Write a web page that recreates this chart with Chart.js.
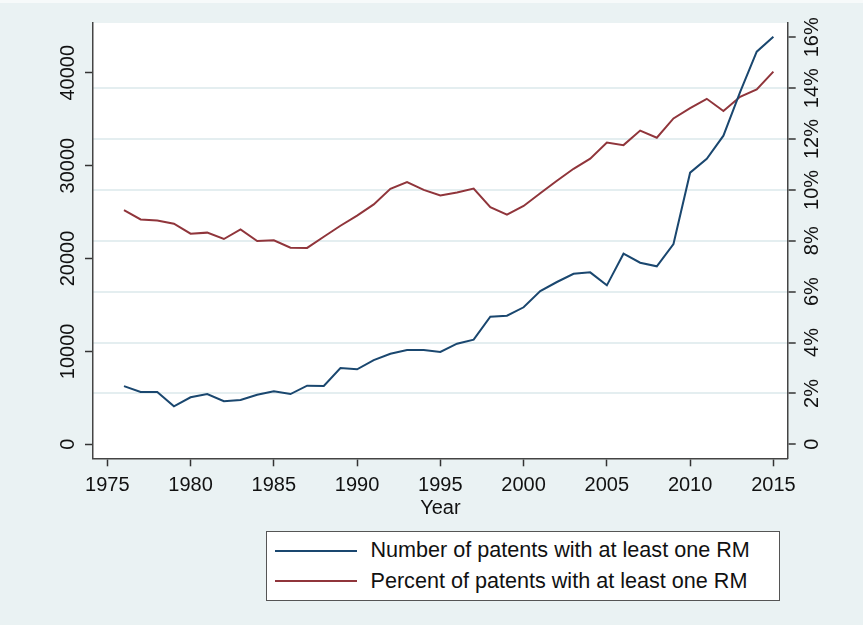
<!DOCTYPE html>
<html>
<head>
<meta charset="utf-8">
<script src="https://cdn.jsdelivr.net/npm/chart.js@4.4.1/dist/chart.umd.min.js"></script>
<style>
  body { margin: 0; background: #fff; }
  #wrap { position: relative; width: 863px; height: 625px; }
  #legend {
    position: absolute; left: 266px; top: 531px; width: 514px; height: 70px;
    box-sizing: border-box; border: 1.5px solid #555; background: #fff;
    font-family: "Liberation Sans", Arial, sans-serif; font-size: 21.6px; color: #111;
  }
  .swatch { position: absolute; left: 7.5px; width: 82px; height: 2px; }
  .txt { position: absolute; left: 103.5px; white-space: nowrap; line-height: 24px; }
</style>
</head>
<body>
<div id="wrap">
  <canvas id="rmChart" width="863" height="625"></canvas>
  <div id="legend">
    <div class="swatch" style="top:17.8px; background:#1a476f"></div>
    <div class="txt" style="top:5.5px">Number of patents with at least one RM</div>
    <div class="swatch" style="top:47.5px; background:#90353b"></div>
    <div class="txt" style="top:36.5px">Percent of patents with at least one RM</div>
  </div>
</div>
<script>
var years = [1976, 1977, 1978, 1979, 1980, 1981, 1982, 1983, 1984, 1985,
             1986, 1987, 1988, 1989, 1990, 1991, 1992, 1993, 1994, 1995,
             1996, 1997, 1998, 1999, 2000, 2001, 2002, 2003, 2004, 2005,
             2006, 2007, 2008, 2009, 2010, 2011, 2012, 2013, 2014, 2015];
// number of patents with at least one RM (left axis)
var patentCounts = [6260, 5630, 5630, 4090, 5060, 5410, 4630, 4770, 5340, 5700,
                    5410, 6310, 6280, 8210, 8070, 9070, 9750, 10150, 10150, 9940,
                    10830, 11260, 13740, 13840, 14750, 16500, 17470, 18360, 18510, 17110,
                    20520, 19550, 19160, 21560, 29240, 30740, 33220, 37900, 42260, 43870];
// percent of patents with at least one RM (right axis)
var patentShares = [9.20, 8.84, 8.80, 8.67, 8.28, 8.32, 8.07, 8.45, 7.99, 8.02,
                    7.73, 7.72, 8.16, 8.59, 8.99, 9.43, 10.04, 10.31, 10.00, 9.78,
                    9.90, 10.05, 9.32, 9.03, 9.37, 9.87, 10.36, 10.83, 11.23, 11.86,
                    11.76, 12.33, 12.05, 12.81, 13.21, 13.58, 13.10, 13.66, 13.95, 14.65];

var yearTicks = [1975, 1980, 1985, 1990, 1995, 2000, 2005, 2010, 2015];
var countTicks = [0, 10000, 20000, 30000, 40000];
var shareTicks = [0, 2, 4, 6, 8, 10, 12, 14, 16];

Chart.defaults.font.family = '"Liberation Sans", Arial, sans-serif';
Chart.defaults.font.size = 20;
Chart.defaults.color = "#111";

var bgColor = "#eaf2f3";

// paint the outer region and the white plot region
var bgPlugin = {
    id: "bg",
    beforeDraw: function (chart) {
        var ctx = chart.ctx, a = chart.chartArea;
        ctx.save();
        ctx.fillStyle = "#f7fafa";
        ctx.fillRect(0, 0, chart.width, chart.height);
        ctx.fillStyle = bgColor;
        ctx.fillRect(0, 3, chart.width, chart.height - 3);
        ctx.fillStyle = "#fff";
        ctx.fillRect(a.left, a.top, a.right - a.left, a.bottom - a.top);
        ctx.restore();
    },
};

function toPoints(xs, ys) {
    return xs.map(function (x, i) { return { x: x, y: ys[i] }; });
}

var axisTicks = { tickLength: 8, tickColor: "#333", tickWidth: 1.5 };

new Chart(document.getElementById("rmChart").getContext("2d"), {
    type: "line",
    data: {
        datasets: [
            {
                label: "Number of patents with at least one RM",
                data: toPoints(years, patentCounts),
                yAxisID: "y",
                borderColor: "#1a476f",
                borderWidth: 2,
                pointRadius: 0,
                tension: 0,
            },
            {
                label: "Percent of patents with at least one RM",
                data: toPoints(years, patentShares),
                yAxisID: "y2",
                borderColor: "#90353b",
                borderWidth: 2,
                pointRadius: 0,
                tension: 0,
            },
        ],
    },
    options: {
        responsive: false,
        animation: false,
        layout: { padding: { top: 23, bottom: 96.7, left: 0, right: 0 } },
        plugins: { legend: { display: false }, tooltip: { enabled: false } },
        scales: {
            x: {
                type: "linear",
                min: 1974.14,
                max: 2015.86,
                afterBuildTicks: function (s) { s.ticks = yearTicks.map(function (v) { return { value: v }; }); },
                afterFit: function (s) { s.height = 70; },
                grid: Object.assign({ drawOnChartArea: false }, axisTicks),
                border: { color: "#444", width: 1.5 },
                ticks: { padding: 7, maxRotation: 0, autoSkip: false, callback: function (v) { return String(v); } },
                title: { display: true, text: "Year", padding: { top: 0, bottom: 8 } },
            },
            y: {
                position: "left",
                min: -1507,
                max: 45350,
                afterBuildTicks: function (s) { s.ticks = countTicks.map(function (v) { return { value: v }; }); },
                afterFit: function (s) { s.width = 93; },
                grid: Object.assign({ drawOnChartArea: false }, axisTicks),
                border: { color: "#444", width: 1.5 },
                ticks: { minRotation: 90, maxRotation: 90, crossAlign: "center", padding: -11, callback: function (v) { return String(v); } },
            },
            y2: {
                position: "right",
                min: -0.55,
                max: 16.56,
                afterBuildTicks: function (s) { s.ticks = shareTicks.map(function (v) { return { value: v }; }); },
                afterFit: function (s) { s.width = 75.3; },
                grid: Object.assign({
                    color: function (c) {
                        // no gridline on the axis ends
                        if (c.tick && (c.tick.value === 0 || c.tick.value === 16)) return "rgba(0,0,0,0)";
                        return "#e4eef0";
                    },
                    lineWidth: 2,
                }, axisTicks),
                border: { color: "#444", width: 1.5 },
                ticks: { minRotation: 90, maxRotation: 90, crossAlign: "center", padding: -3, callback: function (v) { return v === 0 ? "0" : v + "%"; } },
            },
        },
    },
    plugins: [bgPlugin],
});
</script>
</body>
</html>
